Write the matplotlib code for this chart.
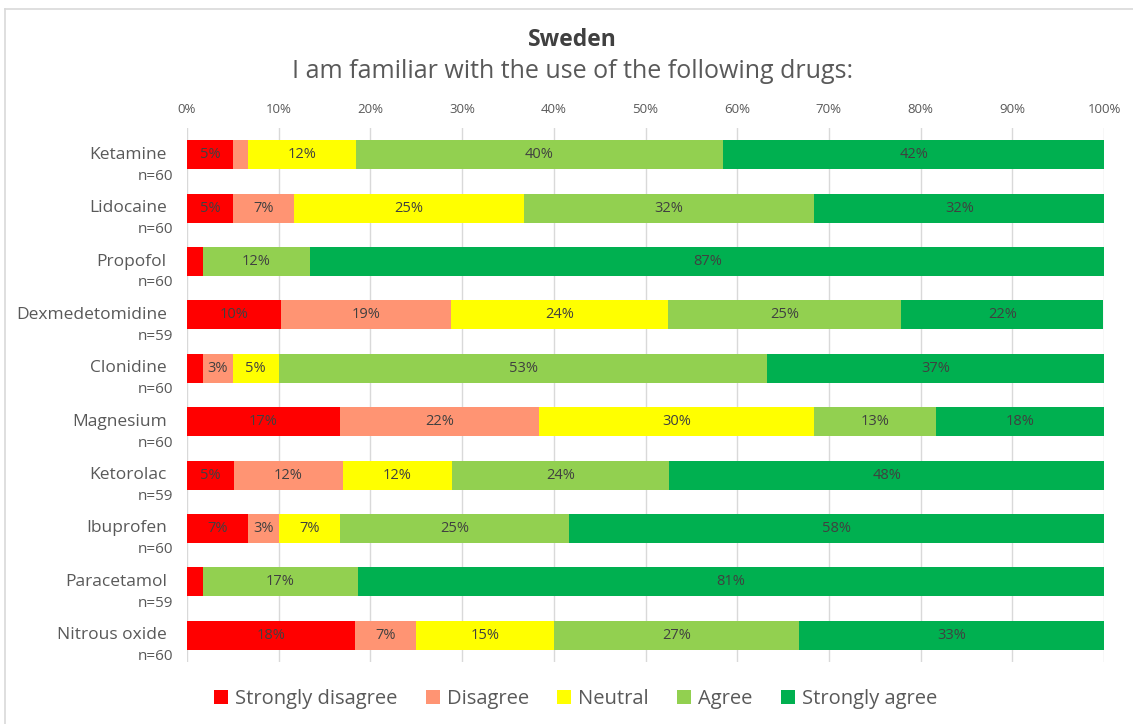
import matplotlib.pyplot as plt
from matplotlib.patches import Patch
from matplotlib.lines import Line2D
import matplotlib.transforms as mtransforms

plt.rcParams['font.family'] = ['Open Sans', 'DejaVu Sans']

# drugs top to bottom, with number of answers
drugs = ["Ketamine", "Lidocaine", "Propofol", "Dexmedetomidine", "Clonidine",
         "Magnesium", "Ketorolac", "Ibuprofen", "Paracetamol", "Nitrous oxide"]
n_resp = [60, 60, 60, 59, 60, 60, 59, 60, 59, 60]

# percent of answers per response category
strongly_disagree = [5.0, 5.0, 1.7, 10.2, 1.7, 16.7, 5.1, 6.7, 1.7, 18.3]
disagree = [1.7, 6.7, 0.0, 18.6, 3.3, 21.7, 11.9, 3.3, 0.0, 6.7]
neutral = [11.7, 25.0, 0.0, 23.7, 5.0, 30.0, 11.9, 6.7, 0.0, 15.0]
agree = [40.0, 31.7, 11.7, 25.4, 53.3, 13.3, 23.7, 25.0, 16.9, 26.7]
strongly_agree = [41.7, 31.7, 86.7, 22.0, 36.7, 18.3, 47.5, 58.3, 81.4, 33.3]

categories = ["Strongly disagree", "Disagree", "Neutral", "Agree", "Strongly agree"]
series = [strongly_disagree, disagree, neutral, agree, strongly_agree]
colors = ["#FF0000", "#FF9473", "#FFFF00", "#92D050", "#00B050"]

fig = plt.figure(figsize=(11.33, 7.24), dpi=100)
ax = fig.add_axes([187 / 1133, 1 - 662 / 724, 917 / 1133, 534 / 724])

# light frame of the chart area (top and left edges visible)
fig.add_artist(Line2D([5 / 1133, 1], [1 - 9 / 724, 1 - 9 / 724], color="#D9D9D9", lw=1.2))
fig.add_artist(Line2D([5 / 1133, 5 / 1133], [0, 1 - 9 / 724], color="#D9D9D9", lw=1.2))

ypos = list(range(len(drugs)))
left = [0.0] * len(drugs)
for vals, col, name in zip(series, colors, categories):
    ax.barh(ypos, vals, left=left, height=0.545, color=col, label=name, zorder=3)
    for i, v in enumerate(vals):
        if v >= 2.5:
            ax.text(left[i] + v / 2, i, f"{v:.0f}%", ha="center", va="center",
                    fontsize=10.5, color="#404040", zorder=4)
    left = [a + b for a, b in zip(left, vals)]

ax.set_xlim(0, 100)
ax.set_ylim(len(drugs) - 0.5, -0.5)
ax.set_xticks(range(0, 101, 10))
ax.set_xticklabels([f"{t}%" for t in range(0, 101, 10)])
ax.xaxis.tick_top()
ax.tick_params(axis="x", length=0, pad=9, labelsize=9.5, labelcolor="#595959")
ax.set_yticks([])
ax.grid(axis="x", color="#D9D9D9", lw=1, zorder=0)
for s in ax.spines.values():
    s.set_visible(False)

# drug names with n below
trans = mtransforms.blended_transform_factory(ax.transAxes, ax.transData)
for i, (d, n) in enumerate(zip(drugs, n_resp)):
    ax.text(-0.022, i, d, transform=trans, ha="right", va="center",
            fontsize=12.5, color="#595959")
    ax.text(-0.015, i + 0.4, f"n={n}", transform=trans, ha="right", va="center",
            fontsize=11, color="#595959")

fig.text(0.505, 1 - 40 / 724, "Sweden", ha="center", va="center",
         fontsize=16.5, fontweight="bold", color="#404040")
fig.text(0.505, 1 - 72 / 724, "I am familiar with the use of the following drugs:",
         ha="center", va="center", fontsize=18, color="#595959")

handles = [Patch(facecolor=c, label=l) for c, l in zip(colors, categories)]
fig.legend(handles=handles, loc="center", bbox_to_anchor=(0.508, 1 - 699 / 724),
           ncol=5, frameon=False, fontsize=14.5, handlelength=0.7, handleheight=0.7,
           handletextpad=0.35, columnspacing=1.4, labelcolor="#595959")

fig.savefig("out.png", dpi=100)
